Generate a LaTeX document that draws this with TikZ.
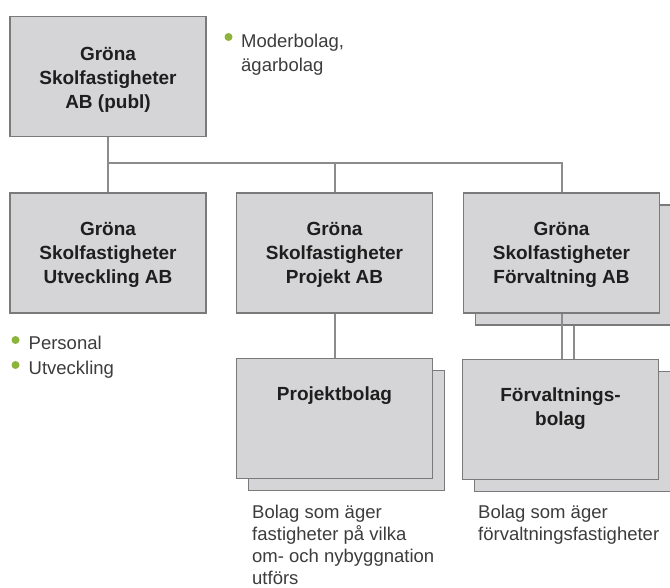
\documentclass[tikz,border=0pt]{standalone}
\usepackage{fontspec}
\setmainfont{Liberation Sans}
\usetikzlibrary{positioning}

\definecolor{boxfill}{HTML}{D5D5D7}
\definecolor{boxline}{HTML}{7A7A7A}
\definecolor{linkgray}{HTML}{8C8C8C}
\definecolor{dotgreen}{HTML}{8CB43A}
\definecolor{txtdark}{HTML}{1E1E1E}
\definecolor{txtgray}{HTML}{3C3C3C}

\tikzset{
  orgbox/.style={draw=boxline, fill=boxfill, line width=1.2pt,
    minimum width=196pt, minimum height=120pt, inner sep=0pt},
  boxlabel/.style={inner sep=0pt, align=center, text=txtdark,
    font=\bfseries\fontsize{19}{24}\selectfont},
  notetext/.style={inner sep=0pt, align=left, text=txtgray,
    font=\fontsize{18.5}{24}\selectfont},
  desctext/.style={notetext, font=\fontsize{18.5}{22}\selectfont},
  bullet/.style={circle, fill=dotgreen, inner sep=0pt, minimum size=8pt},
  link/.style={draw=linkgray, line width=2pt}
}

\begin{document}
\begin{tikzpicture}[x=1pt,y=-1pt]

  \useasboundingbox (0,0) rectangle (670,588);

  % parent company
  \node[orgbox] (parent) at (108,76.5) {};
  \node[boxlabel, below=31pt of parent.north] (parentL) {Gröna\\Skolfastigheter\\AB (publ)};

  % second row
  \node[orgbox] (utv) at (108,253) {};
  \node[boxlabel, below=30pt of utv.north] (utvL) {Gröna\\Skolfastigheter\\Utveckling AB};

  \node[orgbox] (proj) at (334.5,253) {};
  \node[boxlabel, below=30pt of proj.north] (projL) {Gröna\\Skolfastigheter\\Projekt AB};

  \node[orgbox] (forvS) at (573.5,265) {};
  \node[orgbox] (forv) at (561.5,253) {};
  \node[boxlabel, below=30pt of forv.north] (forvL) {Gröna\\Skolfastigheter\\Förvaltning AB};

  % third row (groups of companies)
  \node[orgbox] (projbS) at (346.5,430.5) {};
  \node[orgbox] (projb) at (334.5,418.5) {};
  \node[boxlabel, below=29pt of projb.north] (projbL) {Projektbolag};

  \node[orgbox] (forvbS) at (572.5,431.5) {};
  \node[orgbox] (forvb) at (560.5,419.5) {};
  \node[boxlabel, below=29pt of forvb.north] (forvbL) {Förvaltnings-\\bolag};

  % connectors
  \coordinate (split) at (108,163);
  \draw[link] (parent.south) -- (utv.north);
  \draw[link] (split) -| (proj.north);
  \draw[link] (split) -| (forv.north);
  \draw[link] (proj.south) -- (projb.north);
  \draw[link] (forv.south) -- (forv.south |- forvb.north);
  \draw[link] (forvS.south) -- (forvS.south |- forvb.north);

  % notes
  \node[bullet] (dotMod) at (228.5,37) {};
  \node[notetext, anchor=north west] (noteMod) at (241,34) {Moderbolag,\\ägarbolag};

  \node[bullet] (dotPers) at (15.5,340) {};
  \node[notetext, anchor=north west] (notePers) at (28.5,336) {Personal};
  \node[bullet] (dotUtv) at (15.5,365) {};
  \node[notetext, anchor=north west] (noteUtv) at (28.5,360.5) {Utveckling};

  \node[desctext, anchor=north west] (descProj) at (252,504.5)
    {Bolag som äger\\fastigheter på vilka\\om- och nybyggnation\\utförs};
  \node[desctext, anchor=north west] (descForv) at (478,504.5)
    {Bolag som äger\\förvaltningsfastigheter};

\end{tikzpicture}
\end{document}
